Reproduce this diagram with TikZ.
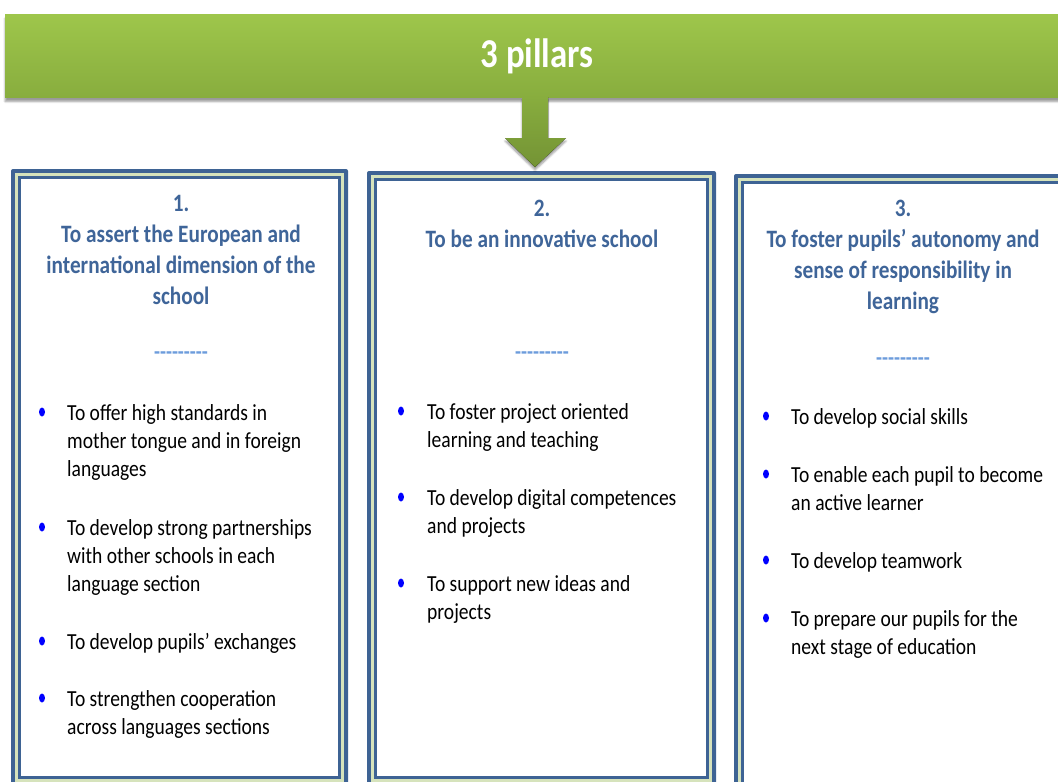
\documentclass[tikz,border=0pt]{standalone}
\usepackage{fontspec}
\setmainfont{Carlito}[FakeStretch=0.85]
\usetikzlibrary{shadows.blur}
\definecolor{frameblue}{HTML}{3E6394}
\definecolor{framegreen}{HTML}{D6E3BC}
\definecolor{headblue}{HTML}{3F6599}
\definecolor{dashblue}{HTML}{6C9CDC}
\definecolor{bannertop}{HTML}{9EC64B}
\definecolor{bannerbot}{HTML}{88AD3E}

\begin{document}
\begin{tikzpicture}[x=1pt,y=-1pt]
	\tikzset{banner/.style={shade, top color=bannertop, bottom color=bannerbot,
			minimum width=1064pt, minimum height=83pt, inner sep=0pt,
			text=white, font=\bfseries\fontsize{41}{44}\selectfont,
			blur shadow={shadow xshift=0pt, shadow yshift=-4pt, shadow blur steps=6}}}
	% base of a multi-line node = baseline of its last line
	\tikzset{head/.style={align=center, inner sep=0pt, anchor=base, text=headblue,
			font=\bfseries\fontsize{25}{31}\selectfont}}
	\tikzset{sep/.style={inner sep=0pt, text=dashblue, font=\bfseries\fontsize{23}{24}\selectfont}}
	\tikzset{item/.style={align=left, inner sep=0pt, anchor=base west,
			font=\fontsize{23}{28}\selectfont}}
	\tikzset{dot/.style={fill=blue}}

	\useasboundingbox (0,0) rectangle (1058,782);
	\clip (0,0) rectangle (1058,782);

	% frames of the three pillars
	\foreach \xa/\ya/\xb/\yb in {11/169/348/786, 367/171/716/786, 734/174/1075/805}{
		\fill[frameblue, rounded corners=2pt] (\xa,\ya) rectangle (\xb,\yb);
		\fill[framegreen] (\xa+4,\ya+4) rectangle (\xb-4,\yb-4);
		\fill[frameblue] (\xa+7,\ya+7) rectangle (\xb-7,\yb-7);
		\fill[white] (\xa+10,\ya+10) rectangle (\xb-10,\yb-10);
	}

	\node[banner] (pillars) at (537,56) {3 pillars};
	\fill[top color=bannerbot, bottom color=bannerbot!85!black,
		blur shadow={shadow xshift=0pt, shadow yshift=-3pt, shadow blur steps=5}]
		(522,97) -- (548,97) -- (548,138) -- (566,138) -- (535,167)
		-- (505,138) -- (522,138) -- cycle;

	% headings
	\node[head] (h1) at (181,304) {1.\\To assert the European and\\international dimension of the\\school};
	\node[head] (h2) at (542,247) {2.\\To be an innovative school};
	\node[head] (h3) at (903,309) {3.\\To foster pupils’ autonomy and\\sense of responsibility in\\learning};

	\node[sep] (s1) at (181,356) {-{}-{}-{}-{}-{}-{}-{}-{}-};
	\node[sep] (s2) at (542,356) {-{}-{}-{}-{}-{}-{}-{}-{}-};
	\node[sep] (s3) at (903,362) {-{}-{}-{}-{}-{}-{}-{}-{}-};

	% first pillar
	\node[item] (a1) at (67,476) {To offer high standards in\\mother tongue and in foreign\\languages};
	\node[item] (a2) at (67,591) {To develop strong partnerships\\with other schools in each\\language section};
	\node[item] (a3) at (67,649) {To develop pupils’ exchanges};
	\node[item] (a4) at (67,734) {To strengthen cooperation\\across languages sections};
	\foreach \y in {412,527,641,698}
		\fill[dot] (42,\y) ellipse (3 and 4.5);

	% second pillar
	\node[item] (b1) at (427,447) {To foster project oriented\\learning and teaching};
	\node[item] (b2) at (427,533) {To develop digital competences\\and projects};
	\node[item] (b3) at (427,619) {To support new ideas and\\projects};
	\foreach \y in {411,497,583}
		\fill[dot] (401,\y) ellipse (3 and 4.5);

	% third pillar
	\node[item] (c1) at (791,424) {To develop social skills};
	\node[item] (c2) at (791,510) {To enable each pupil to become\\an active learner};
	\node[item] (c3) at (791,568) {To develop teamwork};
	\node[item] (c4) at (791,654) {To prepare our pupils for the\\next stage of education};
	\foreach \y in {416,474,560,618}
		\fill[dot] (766,\y) ellipse (3 and 4.5);
\end{tikzpicture}
\end{document}
